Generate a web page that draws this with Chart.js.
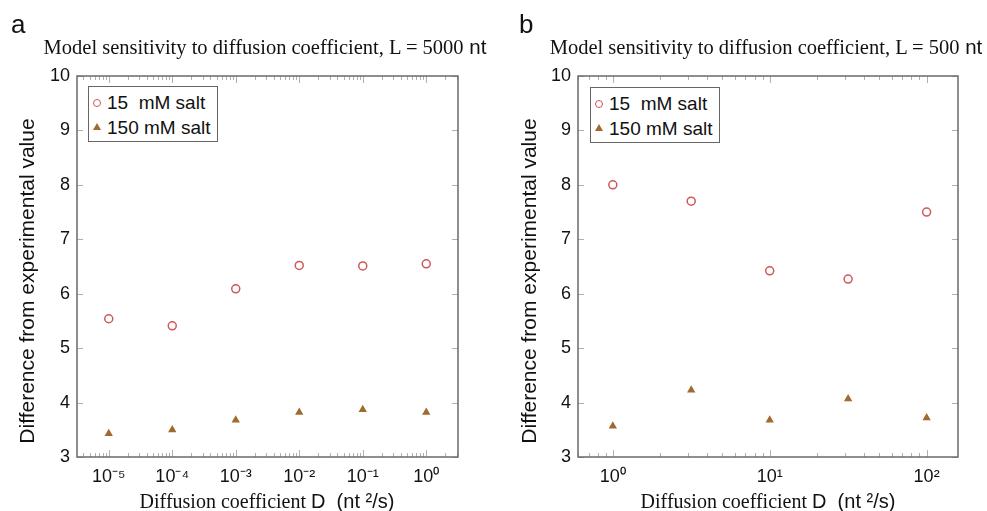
<!DOCTYPE html>
<html><head><meta charset="utf-8">
<script src="https://cdn.jsdelivr.net/npm/chart.js@4.4.0/dist/chart.umd.min.js"></script>
<style>
html,body{margin:0;padding:0;background:#fff;}
body{width:987px;height:511px;overflow:hidden;position:relative;font-family:"Liberation Sans",Arial,sans-serif;color:#111;}
canvas{position:absolute;top:0;}
.abs{position:absolute;white-space:pre;line-height:normal;}
.letter{font-size:26px;}
.serif{font-family:"Liberation Serif","Times New Roman",serif;}
.sans{font-family:"Liberation Sans",Arial,sans-serif;}
.title{font-size:20.5px;transform:translateX(-50%);}
.ylab{font-size:21px;transform:translate(-50%,-50%) rotate(-90deg);}
.legend{position:absolute;box-sizing:border-box;width:130px;height:56px;border:1.5px solid #666;background:#fff;}
.li{position:absolute;left:18px;font-size:19px;line-height:19px;white-space:pre;}
.circ{position:absolute;box-sizing:border-box;width:8px;height:8px;border:1.5px solid #cf5757;border-radius:50%;}
.tri{position:absolute;width:0;height:0;border-left:4px solid transparent;border-right:4px solid transparent;border-bottom:7px solid #a0692f;}
</style>
</head><body>
<canvas id="ca" width="490" height="511" style="left:0"></canvas>
<canvas id="cb" width="490" height="511" style="left:497px"></canvas>

<div class="abs letter" style="left:11px;top:9px">a</div>
<div class="abs letter" style="left:519px;top:9px">b</div>

<div class="abs title" style="left:265px;top:35px"><span class="serif">Model sensitivity to diffusion coefficient, L = 5000</span><span class="sans"> nt</span></div>
<div class="abs title" style="left:766px;top:35px"><span class="serif">Model sensitivity to diffusion coefficient, L = 500</span><span class="sans"> nt</span></div>

<div class="abs ylab" style="left:27px;top:281px">Difference from experimental value</div>
<div class="abs ylab" style="left:529px;top:281px">Difference from experimental value</div>

<div class="abs title" style="left:267px;top:490px;font-size:20px"><span class="serif">Diffusion coefficient </span><span class="sans">D  (nt ²/s)</span></div>
<div class="abs title" style="left:768px;top:490px;font-size:20px"><span class="serif">Diffusion coefficient </span><span class="sans">D  (nt ²/s)</span></div>

<div class="legend" style="left:88px;top:86px">
  <div class="circ" style="left:4px;top:12px"></div><div class="li" style="top:6px">15  mM salt</div>
  <div class="tri" style="left:4px;top:36px"></div><div class="li" style="top:31px">150 mM salt</div>
</div>
<div class="legend" style="left:590px;top:87px">
  <div class="circ" style="left:4px;top:12px"></div><div class="li" style="top:6px">15  mM salt</div>
  <div class="tri" style="left:4px;top:36px"></div><div class="li" style="top:31px">150 mM salt</div>
</div>

<script>
// ---- data ----
const seriesLabels = ['15  mM salt', '150 mM salt'];
const yTicks = [3, 4, 5, 6, 7, 8, 9, 10];

// panel a: L = 5000 nt
const diffA = [1e-5, 1e-4, 1e-3, 1e-2, 1e-1, 1];
const lowSaltA = [5.54, 5.41, 6.09, 6.52, 6.51, 6.55];
const highSaltA = [3.43, 3.50, 3.68, 3.82, 3.87, 3.82];
const xTicksA = [1e-5, 1e-4, 1e-3, 1e-2, 1e-1, 1];
const xTickLabelsA = ['10⁻⁵', '10⁻⁴', '10⁻³', '10⁻²', '10⁻¹', '10⁰'];

// panel b: L = 500 nt
const diffB = [1, 3.16, 10, 31.6, 100];
const lowSaltB = [8.00, 7.70, 6.42, 6.27, 7.50];
const highSaltB = [3.57, 4.23, 3.68, 4.07, 3.72];
const xTicksB = [1, 10, 100];
const xTickLabelsB = ['10⁰', '10¹', '10²'];

const RED = '#cf5757';
const BROWN = '#a0692f';

const frameTicks = {
  id: 'frameTicks',
  afterDraw(chart, args, opts) {
    const ctx = chart.ctx, a = chart.chartArea;
    const xs = chart.scales.x, ys = chart.scales.y;
    ctx.save();
    ctx.strokeStyle = '#b0b0b0';
    ctx.lineWidth = 1;
    ctx.beginPath();
    opts.yTicks.forEach(v => {
      const y = Math.round(ys.getPixelForValue(v)) + 0.5;
      ctx.moveTo(a.left, y); ctx.lineTo(a.left + 6, y);
      ctx.moveTo(a.right, y); ctx.lineTo(a.right - 6, y);
    });
    const k0 = Math.floor(Math.log10(xs.min)), k1 = Math.ceil(Math.log10(xs.max));
    for (let k = k0; k <= k1; k++) {
      for (let m = 1; m <= 9; m++) {
        const v = m * Math.pow(10, k);
        if (v < xs.min || v > xs.max) continue;
        const len = m === 1 ? 7 : 4;
        const x = Math.round(xs.getPixelForValue(v)) + 0.5;
        ctx.moveTo(x, a.bottom); ctx.lineTo(x, a.bottom - len);
        ctx.moveTo(x, a.top); ctx.lineTo(x, a.top + len);
      }
    }
    ctx.stroke();
    ctx.strokeStyle = '#6a6a6a';
    ctx.lineWidth = 1.5;
    ctx.strokeRect(a.left, a.top, a.right - a.left, a.bottom - a.top);
    ctx.restore();
  }
};

function makePanel(id, xs, low, high, xmin, xmax, xTicks, xLabels, yWidth, padRight) {
  return new Chart(document.getElementById(id), {
    type: 'scatter',
    data: {
      datasets: [
        { label: seriesLabels[0], data: xs.map((x, i) => ({ x: x, y: low[i] })),
          pointStyle: 'circle', pointRadius: 4, pointBorderWidth: 1.5,
          borderColor: RED, backgroundColor: 'rgba(0,0,0,0)', showLine: false },
        { label: seriesLabels[1], data: xs.map((x, i) => ({ x: x, y: high[i] })),
          pointStyle: 'triangle', pointRadius: 4.8, pointBorderWidth: 0,
          borderColor: BROWN, backgroundColor: BROWN, showLine: false }
      ]
    },
    options: {
      responsive: false, animation: false, devicePixelRatio: 1,
      layout: { padding: { top: 76, right: padRight, bottom: 0, left: 0 } },
      plugins: { legend: { display: false }, tooltip: { enabled: false },
        frameTicks: { yTicks: yTicks } },
      scales: {
        x: {
          type: 'logarithmic', min: xmin, max: xmax,
          grid: { display: false, drawTicks: false }, border: { display: false },
          afterBuildTicks: s => { s.ticks = xTicks.map(v => ({ value: v })); },
          ticks: { autoSkip: false, maxRotation: 0, padding: 9, color: '#111',
            font: { family: 'Liberation Sans', size: 18 },
            callback: (v, i) => xLabels[i] },
          afterFit: s => { s.height = 54; }
        },
        y: {
          type: 'linear', min: 3, max: 10,
          grid: { display: false, drawTicks: false }, border: { display: false },
          afterBuildTicks: s => { s.ticks = yTicks.map(v => ({ value: v })); },
          ticks: { padding: 7, color: '#111', font: { family: 'Liberation Sans', size: 18 } },
          afterFit: s => { s.width = yWidth; }
        }
      }
    },
    plugins: [frameTicks]
  });
}

makePanel('ca', diffA, lowSaltA, highSaltA, Math.pow(10, -5.5), Math.pow(10, 0.5), xTicksA, xTickLabelsA, 77, 32);
makePanel('cb', diffB, lowSaltB, highSaltB, Math.pow(10, -0.2), Math.pow(10, 2.2), xTicksB, xTickLabelsB, 81, 29);
</script>
</body></html>
